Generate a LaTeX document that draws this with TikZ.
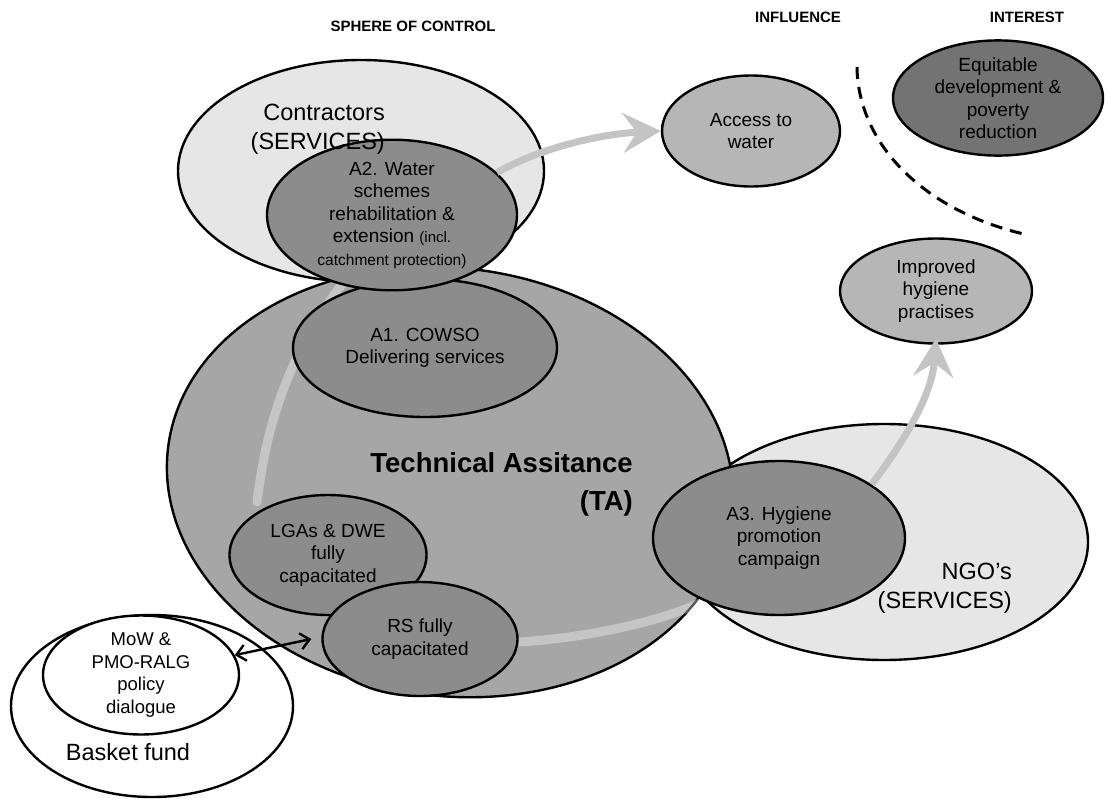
\documentclass[tikz,border=0pt]{standalone}
\usepackage{fontspec}
\setmainfont{Liberation Sans}
\usetikzlibrary{shapes.geometric,arrows.meta,calc}
\definecolor{lightfill}{HTML}{E6E6E6}
\definecolor{tafill}{HTML}{A6A6A6}
\definecolor{actfill}{HTML}{8C8C8C}
\definecolor{outfill}{HTML}{B6B6B6}
\definecolor{goalfill}{HTML}{737373}
\definecolor{arrowgray}{HTML}{C4C4C4}
\begin{document}
\begin{tikzpicture}[x=1pt,y=-1pt,
  ell/.style={ellipse, draw=black, line width=2.4pt, inner sep=0pt, align=center,
    font=\fontsize{19}{22.5}\selectfont},
  sphere/.style={ell, fill=lightfill},
  activity/.style={ell, fill=actfill},
  outcome/.style={ell, fill=outfill},
  goal/.style={ell, fill=goalfill},
  plain/.style={ell, fill=white},
  heading/.style={font=\bfseries\fontsize{15}{18}\selectfont},
  bigtext/.style={align=right, font=\fontsize{23.5}{29}\selectfont, inner sep=0pt},
  resultarrow/.style={draw=arrowgray, line width=7pt,
    -{Stealth[length=38pt, width=40pt, inset=14pt, fill=arrowgray]}},
  glow/.style={draw=white, opacity=0.35, line width=9pt, line cap=round},
  boundary/.style={draw=black, line width=3pt, dash pattern=on 12pt off 8pt},
  linkarrow/.style={draw=black, line width=2.4pt,
    {Straight Barb[length=9pt, width=16pt]}-{Straight Barb[length=9pt, width=16pt]}}]
\useasboundingbox (0,0) rectangle (1108,798);

% column headings
\node[heading] (hsc) at (413,26) {SPHERE OF CONTROL};
\node[heading] (hinf) at (798,17) {INFLUENCE};
\node[heading] (hint) at (1027,17) {INTEREST};

% contractors sphere and its outcome
\node[sphere, minimum width=366pt, minimum height=222pt] (contr) at (361,171) {};
\node[outcome, minimum width=178pt, minimum height=111pt] (acc) at (751,131) {Access to\\water};

% NGO sphere and the technical assistance sphere on top
\node[sphere, minimum width=408pt, minimum height=236pt] (ngo) at (884,542) {};
\node[ell, fill=tafill, rotate=-7, minimum width=568pt, minimum height=428pt] (ta) at (450,482) {};

% faint links inside TA
\coordinate (g1a) at (257,502);
\coordinate (g1b) at (342,284);
\draw[glow] (g1a) .. controls (266,430) and (285,360) .. (g1b);
\coordinate (g2a) at (520,642);
\coordinate (g2b) at (700,603);
\draw[glow] (g2a) .. controls (580,638) and (650,625) .. (g2b);

% activities
\node[activity, minimum width=264pt, minimum height=138pt] (a1) at (425,348)
  {A1. COWSO\\Delivering services};
\node[activity, minimum width=250pt, minimum height=132pt] (a2) at (392,215)
  {A2. Water\\schemes\\rehabilitation \&\\extension {\fontsize{15}{18}\selectfont(incl.}\\
   {\fontsize{15.5}{18}\selectfont catchment protection)}};
\node[activity, minimum width=197pt, minimum height=120pt] (lga) at (328,555)
  {LGAs \& DWE\\fully\\capacitated};
\node[activity, minimum width=195pt, minimum height=114pt] (rs) at (420,639)
  {RS fully\\capacitated};
\node[activity, minimum width=252pt, minimum height=154pt] (a3) at (779,538)
  {A3. Hygiene\\promotion\\campaign};

% outcomes and goal
\node[outcome, minimum width=192pt, minimum height=105pt] (imp) at (936,291)
  {Improved\\hygiene\\practises};
\node[goal, minimum width=210pt, minimum height=113pt] (equ) at (998,98)
  {Equitable\\development \&\\poverty\\reduction};

% result arrows
\draw[resultarrow] (a2.22) .. controls (540,148) and (600,134) .. (acc.west);
\draw[resultarrow] (a3.30) .. controls (905,440) and (932,395) .. ([yshift=6pt]imp.south);

% border between influence and interest
\coordinate (db1) at (857,67);
\coordinate (db2) at (1028,235);
\draw[boundary] (db1) .. controls (858,145) and (925,212) .. (db2);

% basket fund and policy dialogue
\node[plain, minimum width=282pt, minimum height=182pt] (basket) at (152,706) {};
\node[plain, minimum width=196pt, minimum height=116pt, font=\fontsize{18.5}{22.5}\selectfont] (mow) at (141,675)
  {MoW \&\\PMO-RALG\\policy\\dialogue};
\draw[linkarrow] (mow.12) -- ([xshift=-10pt]rs.west);

% sphere labels
\node[bigtext, anchor=east] (lcontr) at (385,129) {Contractors\\(SERVICES)};
\node[bigtext, anchor=east] (lngo) at (1012,588) {NGO's\\(SERVICES)};
\node[bigtext, anchor=east, font=\bfseries\fontsize{27.5}{38}\selectfont] (lta) at (633,484)
  {Technical Assitance\\(TA)};
\node[font=\fontsize{23.5}{29}\selectfont] (lbasket) at (128,752) {Basket fund};
\end{tikzpicture}
\end{document}
